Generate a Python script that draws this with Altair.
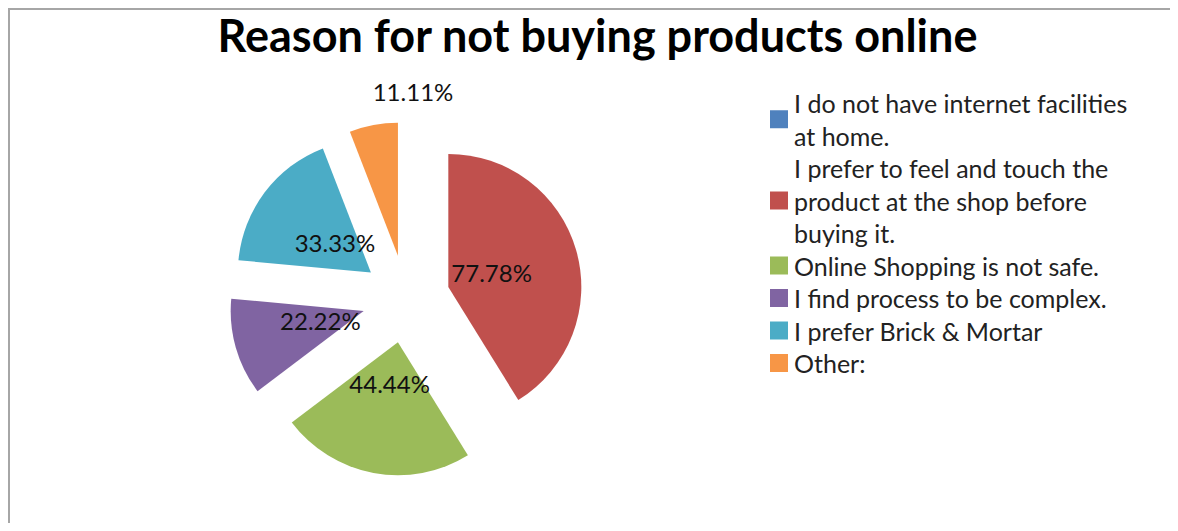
import altair as alt
import pandas as pd

# ---- data ----
categories = [
    "I do not have internet facilities at home.",
    "I prefer to feel and touch the product at the shop before buying it.",
    "Online Shopping is not safe.",
    "I find process to be complex.",
    "I prefer Brick & Mortar",
    "Other:",
]
values = [0.0, 77.78, 44.44, 22.22, 33.33, 11.11]
colors = ["#4F81BD", "#C0504D", "#9BBB59", "#8064A2", "#4BACC6", "#F79646"]
legend_lines = [
    ["I do not have internet facilities", "at home."],
    ["I prefer to feel and touch the", "product at the shop before", "buying it."],
    ["Online Shopping is not safe."],
    ["I find process to be complex."],
    ["I prefer Brick & Mortar"],
    ["Other:"],
]
title_text = "Reason for not buying products online"

# ---- layout ----
W, H = 1162, 515
CX, CY = 398, 291          # pie centre
R = 133                    # pie radius
EXPLODE = 44               # explosion distance
LABEL_R_IN = 89
LABEL_R_OUT = 205
LEG_TOP = 97
LEG_LH = 32.5
LEG_TX = 786
LEG_SX = 771
FONT = "Lato"

df = pd.DataFrame({
    "idx": list(range(len(categories))),
    "category": categories,
    "value": values,
    "lines": legend_lines,
})

color_scale = alt.Scale(domain=categories, range=colors)

pie_base = (
    alt.Chart(df)
    .transform_filter("datum.value > 0")
    .transform_joinaggregate(total="sum(value)")
    .transform_stack(stack="value", as_=["s0", "s1"], groupby=[],
                     sort=[alt.SortField("idx", order="ascending")])
    .transform_calculate(
        a0="datum.s0 / datum.total * 2 * PI",
        a1="datum.s1 / datum.total * 2 * PI",
    )
    .transform_calculate(mid="(datum.a0 + datum.a1) / 2",
                         share="datum.value / datum.total")
    .transform_calculate(
        px=f"{CX} + {EXPLODE} * sin(datum.mid)",
        py=f"{CY} - {EXPLODE} * cos(datum.mid)",
        lang="datum.share < 0.1 ? datum.a1 : datum.mid",
        lr=f"datum.share < 0.1 ? {LABEL_R_OUT} : {LABEL_R_IN}",
        nudge="datum.share < 0.1 ? 7 : 0",
        label="format(datum.value, '.2f') + '%'",
    )
    .transform_calculate(
        lx="%d + datum.lr * sin(datum.lang) + datum.nudge" % CX,
        ly="%d - datum.lr * cos(datum.lang)" % CY,
    )
)

arcs = pie_base.mark_arc(radius=R).encode(
    theta=alt.Theta("a0:Q", scale=None),
    theta2="a1:Q",
    x=alt.X("px:Q", scale=None),
    y=alt.Y("py:Q", scale=None),
    color=alt.Color("category:N", scale=color_scale, legend=None),
)

labels = pie_base.mark_text(font=FONT, fontSize=24, color="#111111",
                            baseline="middle", align="center").encode(
    x=alt.X("lx:Q", scale=None),
    y=alt.Y("ly:Q", scale=None),
    text="label:N",
)

leg_base = (
    alt.Chart(df)
    .transform_calculate(nlines="length(datum.lines)")
    .transform_window(cum="sum(nlines)", sort=[alt.SortField("idx", order="ascending")])
    .transform_calculate(
        ty=f"{LEG_TOP} + {LEG_LH} * (datum.cum - datum.nlines)",
        sy=f"{LEG_TOP} + {LEG_LH} * (datum.cum - datum.nlines + (datum.nlines - 1) / 2) - 2",
    )
)

leg_text = leg_base.mark_text(font=FONT, fontSize=25, color="#222222", align="left",
                              baseline="middle", lineHeight=LEG_LH).encode(
    x=alt.value(LEG_TX),
    y=alt.Y("ty:Q", scale=None),
    text="lines:N",
)

leg_sym = leg_base.mark_square(size=324, opacity=1).encode(
    x=alt.value(LEG_SX),
    y=alt.Y("sy:Q", scale=None),
    color=alt.Color("category:N", scale=color_scale, legend=None),
)

one = pd.DataFrame({"t": [title_text]})
title = alt.Chart(one).mark_text(font=FONT, fontSize=45, fontWeight="bold", color="#000000",
                                 align="center", baseline="alphabetic").encode(
    text="t:N", x=alt.value(589.5), y=alt.value(44)
)

border_left = alt.Chart(one).mark_rule(color="#a6a6a6", strokeWidth=2).encode(
    x=alt.value(1), y=alt.value(0), y2=alt.value(H)
)
border_top = alt.Chart(one).mark_rule(color="#a6a6a6", strokeWidth=2).encode(
    y=alt.value(1), x=alt.value(0), x2=alt.value(W)
)

chart = alt.layer(border_left, border_top, arcs, labels, leg_sym, leg_text, title).properties(
    width=W, height=H, autosize=alt.AutoSizeParams(type="none"), padding=0,
    background="white",
).configure_view(stroke=None)

chart.save("out.html", embed_options={"renderer": "svg", "actions": False})
